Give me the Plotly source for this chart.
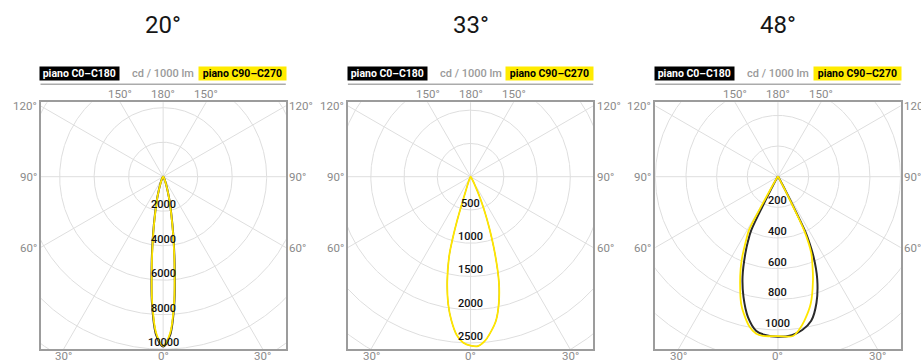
import numpy as np
import plotly.graph_objects as go

W, H = 921, 360

# ---------------------------------------------------------------- data
titles = ["20°", "33°", "48°"]

# 20° optic (cd / 1000 lm), angle from nadir, negative = left half
ang_20 = [-90, -60, -40, -30, -25, -20, -17.5, -15, -12.5, -10, -7.5, -5, -2.5,
          0, 2.5, 5, 7.5, 10, 12.5, 15, 17.5, 20, 25, 30, 40, 60, 90]
c0_20 = [0, 10, 40, 120, 260, 560, 870, 1420, 2150, 3350, 5100, 7400, 9200,
         9850, 9200, 7400, 5100, 3350, 2150, 1420, 870, 560, 260, 120, 40, 10, 0]
c90_20 = [0, 10, 40, 120, 250, 550, 850, 1400, 2100, 3300, 5000, 7300, 9100,
          9800, 9100, 7300, 5000, 3300, 2100, 1400, 850, 550, 250, 120, 40, 10, 0]
rings_20 = [2000, 4000, 6000, 8000, 10000, 12000]

# 33° optic
ang_33 = [-90, -60, -45, -30, -25, -20, -18, -17, -16, -15, -12.5, -10, -7.5, -5, -2.5,
          0, 2.5, 5, 7.5, 10, 12.5, 15, 17.5, 20, 22.5, 25, 27.5, 30, 35, 45, 60, 90]
c0_33 = [0, 1, 4, 15, 40, 130, 330, 700, 1010, 1250, 1620, 1940, 2190, 2390, 2500,
         2540, 2550, 2480, 2350, 2200, 1960, 1650, 1230, 830, 520, 280, 130, 70, 25, 8, 2, 0]
c90_33 = [0, 1, 4, 15, 40, 130, 330, 700, 1010, 1250, 1620, 1940, 2190, 2390, 2500,
          2540, 2550, 2480, 2350, 2200, 1960, 1650, 1230, 830, 520, 280, 130, 70, 25, 8, 2, 0]
rings_33 = [500, 1000, 1500, 2000, 2500, 3000]

# 48° optic
ang_48_c0 = [-90, -60, -40, -32, -29, -27.5, -26.5, -25, -23, -19.5, -16, -12, -8, -5,
             0, 5, 9, 13, 17, 21, 24, 26, 26.5, 27.5, 29, 32, 40, 60, 90]
c0_48 = [0, 2, 8, 30, 80, 200, 390, 460, 545, 692, 816, 938, 1016, 1035,
         1045, 1038, 1013, 965, 860, 715, 570, 440, 395, 200, 80, 30, 8, 2, 0]
ang_48_c90 = [-90, -60, -45, -35, -31, -29.5, -28.5, -27, -24, -22, -19.5, -16.2, -14, -10.7,
              -8, -5.4, 0, 5.4, 7.7, 10.5, 14.5, 18.7, 21, 23.5, 26, 27, 28.5, 32, 40, 60, 90]
c90_48 = [0, 1, 5, 25, 80, 200, 397, 450, 573, 650, 740, 862, 921, 997,
          1033, 1044, 1040, 1044, 1011, 953, 855, 713, 630, 546, 390, 200, 70, 20, 5, 1, 0]
rings_48 = [200, 400, 600, 800, 1000, 1200]

panels = [
    dict(title=titles[0], a0=ang_20, c0=c0_20, a90=ang_20, c90=c90_20,
         rings=rings_20, px_per_ring=34.5, c0_width=2.0),
    dict(title=titles[1], a0=ang_33, c0=c0_33, a90=ang_33, c90=c90_33,
         rings=rings_33, px_per_ring=33.25, c0_width=0.8),
    dict(title=titles[2], a0=ang_48_c0, c0=c0_48, a90=ang_48_c90, c90=c90_48,
         rings=rings_48, px_per_ring=30.65, c0_width=2.0),
]

angle_ticks = [0, 30, 60, 90, 120, 150, 180]

# ---------------------------------------------------------------- layout geometry (px)
BOX_W = 245.3
BOX_TOP, BOX_BOT = 102.3, 349.0
CY = 176.7
LEFTS = [40.5, 347.9, 655.3]
HALF = BOX_W / 2
UP = CY - BOX_TOP        # box extent above centre
DOWN = BOX_BOT - CY      # box extent below centre

YELLOW = "#ffe600"
HDR_YELLOW = "#ffeb00"
DARK = "#2b2b2b"
GRID = "#dedede"
FRAME = "#9c9c9c"
LABEL = "#8a8a8a"
FONT = "Roboto"


def px(x):
    return x / W


def py(y):
    return 1 - y / H


fig = go.Figure()
annotations = []
shapes = []

for i, p in enumerate(panels):
    left = LEFTS[i]
    right = left + BOX_W
    cx = left + HALF
    s = p["px_per_ring"] / p["rings"][0]      # px per cd
    xa = "x" if i == 0 else f"x{i + 1}"
    ya = "y" if i == 0 else f"y{i + 1}"
    ax_key = "" if i == 0 else str(i + 1)

    # polar grid: rings and 30° spokes
    t = np.linspace(0, 2 * np.pi, 721)
    gx, gy = [], []
    for r in p["rings"]:
        gx += list(r * np.cos(t)) + [None]
        gy += list(r * np.sin(t)) + [None]
    rmax = p["rings"][-1] * 1.3
    for a in range(0, 360, 30):
        th = np.radians(a)
        gx += [0, rmax * np.sin(th), None]
        gy += [0, -rmax * np.cos(th), None]
    fig.add_trace(go.Scatter(x=gx, y=gy, mode="lines", xaxis=xa, yaxis=ya,
                             line=dict(color=GRID, width=1), hoverinfo="skip",
                             showlegend=False))

    # photometric curves
    for ang, val, col, wid in [(p["a0"], p["c0"], DARK, p["c0_width"]),
                               (p["a90"], p["c90"], YELLOW, 1.8)]:
        th = np.radians(np.array(ang, dtype=float))
        v = np.array(val, dtype=float)
        fig.add_trace(go.Scatter(x=v * np.sin(th), y=-v * np.cos(th), mode="lines",
                                 xaxis=xa, yaxis=ya,
                                 line=dict(color=col, width=wid, shape="spline",
                                           smoothing=0.9),
                                 hoverinfo="skip", showlegend=False))

    # axes = frame of the diagram
    fig.layout["xaxis" + ax_key] = dict(
        domain=[px(left), px(right)], range=[-HALF / s, HALF / s],
        showgrid=False, zeroline=False, showticklabels=False, ticks="",
        showline=True, mirror=True, linecolor=FRAME, linewidth=1.5,
        anchor=ya, fixedrange=True)
    fig.layout["yaxis" + ax_key] = dict(
        domain=[py(BOX_BOT), py(BOX_TOP)], range=[-DOWN / s, UP / s],
        showgrid=False, zeroline=False, showticklabels=False, ticks="",
        showline=True, mirror=True, linecolor=FRAME, linewidth=1.5,
        anchor=xa, fixedrange=True)

    # intensity labels along the 0° spoke, sitting just above each ring
    for r in p["rings"][:5]:
        annotations.append(dict(x=0, y=-r + 6.5 / s, xref=xa, yref=ya, text=str(r),
                                showarrow=False, xanchor="center", yanchor="middle",
                                font=dict(family=FONT, size=11, color="#111111",
                                          weight=500)))

    # angle labels around the frame
    for a in angle_ticks:
        sides = [1] if a in (0, 180) else [-1, 1]
        for sd in sides:
            th = np.radians(a)
            dx, dy = sd * np.sin(th), -np.cos(th)   # dy positive = up
            cand = []
            if abs(dx) > 1e-9:
                cand.append((HALF / abs(dx), "side"))
            if dy > 1e-9:
                cand.append((UP / dy, "top"))
            if dy < -1e-9:
                cand.append((DOWN / -dy, "bottom"))
            tt, edge = min(cand)
            hx, hy = cx + tt * dx, CY - tt * dy
            txt = f"{a}°"
            f = dict(family=FONT, size=11.5, color=LABEL)
            if edge == "side" and dx < 0:
                annotations.append(dict(x=px(left - 2), y=py(hy), xref="paper", yref="paper",
                                        text=txt, showarrow=False, xanchor="right",
                                        yanchor="middle", font=f))
            elif edge == "side":
                annotations.append(dict(x=px(right + 1.5), y=py(hy), xref="paper", yref="paper",
                                        text=txt, showarrow=False, xanchor="left",
                                        yanchor="middle", font=f))
            elif edge == "top":
                annotations.append(dict(x=px(hx), y=py(BOX_TOP - 8), xref="paper", yref="paper",
                                        text=txt, showarrow=False, xanchor="center",
                                        yanchor="middle", font=f))
            else:
                annotations.append(dict(x=px(hx), y=py(BOX_BOT + 6.5), xref="paper", yref="paper",
                                        text=txt, showarrow=False, xanchor="center",
                                        yanchor="middle", font=f))

    # header: legend chips and unit
    annotations.append(dict(x=px(left + 39.3), y=py(73.6), xref="paper", yref="paper",
                            text="piano C0–C180", showarrow=False, bgcolor="#000000",
                            width=78.6, height=12.7, borderpad=0,
                            xanchor="center", yanchor="middle",
                            font=dict(family=FONT, size=10.5, color="#ffffff", weight="bold")))
    annotations.append(dict(x=px(cx), y=py(73.6), xref="paper", yref="paper",
                            text="cd / 1000 lm", showarrow=False,
                            xanchor="center", yanchor="middle",
                            font=dict(family=FONT, size=11, color="#9a9a9a", weight=500)))
    annotations.append(dict(x=px(right - 43.35), y=py(73.6), xref="paper", yref="paper",
                            text="piano C90–C270", showarrow=False, bgcolor=HDR_YELLOW,
                            width=86.7, height=12.7, borderpad=0,
                            xanchor="center", yanchor="middle",
                            font=dict(family=FONT, size=10.5, color="#000000", weight="bold")))
    shapes.append(dict(type="line", xref="paper", yref="paper",
                       x0=px(left), x1=px(right), y0=py(84.3), y1=py(84.3),
                       line=dict(color="#ababab", width=1.5)))

    # beam angle title
    annotations.append(dict(x=px(cx), y=py(25.5), xref="paper", yref="paper",
                            text=p["title"], showarrow=False,
                            xanchor="center", yanchor="middle",
                            font=dict(family=FONT, size=24, color="#161616")))

fig.update_layout(width=W, height=H, margin=dict(l=0, r=0, t=0, b=0),
                  paper_bgcolor="white", plot_bgcolor="white",
                  annotations=annotations, shapes=shapes, showlegend=False)

fig.write_html("out.html", config=dict(displayModeBar=False))
